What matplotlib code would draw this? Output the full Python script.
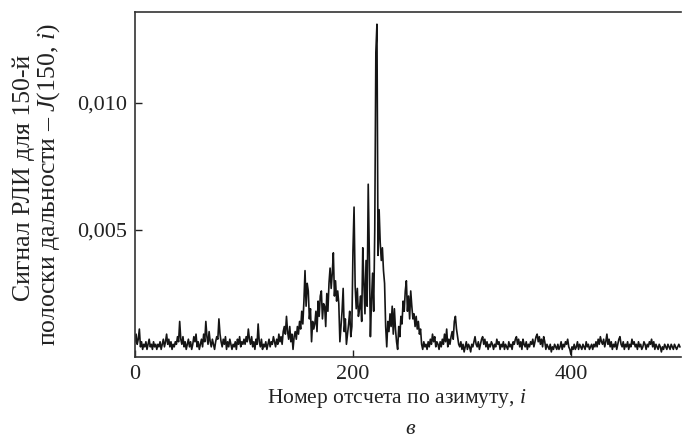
import numpy as np
import matplotlib.pyplot as plt

plt.rcParams['font.family'] = ['Liberation Serif', 'DejaVu Serif']
plt.rcParams['mathtext.fontset'] = 'custom'
plt.rcParams['mathtext.rm'] = 'Liberation Serif'
plt.rcParams['mathtext.it'] = 'Liberation Serif:italic'

# azimuth sample index
idx = np.arange(0, 501)

# signal, in units of 1e-4
sig = [
    6, 9, 5, 7, 11, 4, 6, 3, 5, 4,
    6, 3, 5, 7, 4, 5, 3, 6, 4, 5,
    3, 5, 4, 6, 3, 5, 7, 4, 6, 9,
    5, 7, 4, 6, 3, 5, 4, 6, 5, 8,
    6, 14, 7, 5, 8, 4, 6, 3, 5, 7,
    4, 6, 3, 5, 8, 6, 9, 4, 6, 3,
    5, 7, 4, 9, 6, 14, 8, 5, 10, 6,
    4, 7, 5, 3, 6, 8, 7, 15, 9, 6,
    4, 7, 5, 8, 3, 6, 4, 7, 5, 3,
    5, 4, 6, 3, 7, 5, 8, 4, 6, 5,
    7, 5, 8, 6, 11, 7, 5, 8, 4, 6,
    3, 7, 5, 13, 6, 4, 7, 3, 5, 4,
    6, 3, 5, 7, 4, 6, 5, 8, 6, 4,
    7, 5, 9, 6, 8, 5, 10, 12, 9, 16,
    10, 7, 12, 6, 9, 3, 8, 10, 7, 12,
    9, 14, 11, 18, 13, 22, 34, 20, 29, 26,
    15, 19, 6, 14, 11, 13, 18, 10, 22, 16,
    24, 26, 15, 21, 20, 12, 25, 18, 29, 35,
    27, 33, 41, 24, 30, 22, 26, 21, 6, 12,
    18, 27, 10, 15, 5, 9, 13, 18, 8, 12,
    42, 59, 28, 19, 27, 16, 19, 24, 14, 43,
    29, 17, 38, 20, 68, 41, 8, 22, 33, 18,
    50, 120, 131, 40, 58, 45, 38, 43, 34, 29,
    12, 4, 14, 10, 17, 12, 20, 9, 19, 11,
    6, 3, 12, 8, 16, 13, 22, 18, 26, 30,
    18, 24, 15, 26, 20, 15, 17, 12, 16, 11,
    14, 9, 11, 5, 3, 6, 4, 5, 3, 6,
    4, 7, 5, 9, 6, 8, 4, 6, 5, 3,
    6, 4, 7, 5, 9, 6, 11, 4, 7, 5,
    8, 10, 7, 14, 16, 11, 8, 5, 4, 6,
    3, 5, 2, 4, 6, 3, 5, 4, 2, 5,
    4, 6, 8, 5, 4, 6, 3, 5, 7, 8,
    5, 7, 4, 6, 3, 5, 4, 6, 5, 3,
    5, 4, 7, 5, 6, 3, 5, 4, 6, 3,
    5, 4, 3, 6, 4, 5, 3, 6, 5, 7,
    8, 5, 7, 4, 6, 3, 7, 5, 4, 6,
    3, 5, 4, 6, 5, 7, 4, 6, 8, 9,
    6, 8, 5, 7, 4, 8, 6, 3, 5, 4,
    3, 5, 2, 4, 3, 5, 4, 3, 5, 3,
    4, 6, 3, 5, 4, 6, 5, 7, 4, 3,
    1, 4, 3, 5, 3, 4, 6, 3, 5, 4,
    3, 5, 4, 3, 6, 4, 5, 3, 4, 5,
    3, 5, 4, 6, 4, 7, 5, 8, 6, 5,
    7, 4, 6, 9, 5, 7, 4, 6, 3, 5,
    4, 6, 3, 5, 7, 8, 5, 4, 6, 3,
    5, 4, 6, 3, 5, 4, 7, 5, 6, 4,
    5, 3, 6, 4, 5, 3, 4, 6, 5, 3,
    5, 4, 6, 5, 7, 4, 6, 3, 5, 4,
    3, 5, 4, 2, 4, 3, 5, 4, 3, 5,
    4, 3, 5, 4, 3, 5, 4, 3, 4, 5,
    4,
]
sig = np.array(sig) * 1e-4

xticks = [0, 200, 400]
yticks = [0.005, 0.010]
ytick_labels = ['0,005', '0,010']

fig = plt.figure(figsize=(6.82, 4.46), dpi=100)
ax = fig.add_axes([135/682, 1 - 357/446, 546/682, 345/446])
ax.plot(idx, sig, color='#151515', lw=1.2)

ax.set_xlim(0, 501)
ax.set_ylim(0, 0.01358)
ax.set_xticks(xticks)
ax.set_xticklabels([str(t) for t in xticks])
ax.set_yticks(yticks)
ax.set_yticklabels(ytick_labels)
ax.tick_params(direction='in', length=5, width=1, labelsize=16, pad=6, colors='#222222')
ax.spines['right'].set_visible(False)
for s in ['left', 'top', 'bottom']:
    ax.spines[s].set_linewidth(1.2)
    ax.spines[s].set_color('#333333')

ax.set_xlabel('Номер отсчета по азимуту, $i$', fontsize=15.5, color='#222222')
ax.xaxis.set_label_coords((397 - 135) / 546, -(398 - 357) / 345)
ax.xaxis.label.set_va('center')
fig.text(24/682, 1 - 178/446, 'Сигнал РЛИ для 150-й', rotation=90, fontsize=18.5,
         ha='center', va='center', color='#222222')
fig.text(49/682, 1 - 185/446, 'полоски дальности – $J$(150, $i$)', rotation=90, fontsize=18.5,
         ha='center', va='center', color='#222222')
fig.text(410/682, 1 - 430/446, 'в', fontsize=16, style='italic', ha='center', va='center',
         color='#222222')

fig.savefig('out.png', dpi=100)
